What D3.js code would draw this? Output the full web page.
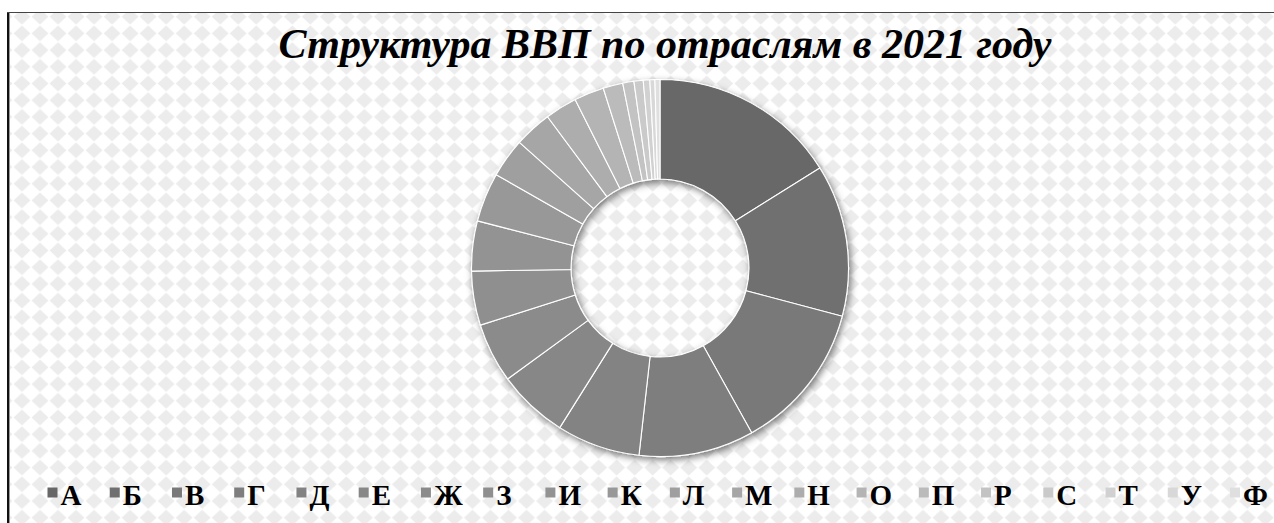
<!DOCTYPE html>
<html><head><meta charset="utf-8">
<script src="https://cdn.jsdelivr.net/npm/d3@7"></script>
<style>html,body{margin:0;padding:0;background:#fff;overflow:hidden;} svg{display:block;}</style>
</head><body>
<svg id="chart" width="1274" height="523"></svg>
<script>
// ---- data ----
const title = "Структура ВВП по отраслям в 2021 году";
const categories = ["А","Б","В","Г","Д","Е","Ж","З","И","К","Л","М","Н","О","П","Р","С","Т","У","Ф"];
const shares = [16.1,13.0,12.8,9.86,7.14,6.06,5.11,4.64,4.28,4.22,3.36,3.22,2.75,2.56,1.69,0.96,0.79,0.56,0.43,0.43];
const colors = ["#676767","#707070","#797979","#7e7e7e","#838383","#878787","#8b8b8b","#8f8f8f","#939393","#989898",
                "#9f9f9f","#a6a6a6","#adadad","#b4b4b4","#bbbbbb","#c3c3c3","#cacaca","#d1d1d1","#d8d8d8","#dfdfdf"];

// ---- layout ----
const W = 1274, H = 523;
const cx = 660, cy = 268, rOuter = 188.5, rInner = 89;
const svg = d3.select("#chart");
const defs = svg.append("defs");

// diamond background pattern
const pw = 18.02, ph = 16.7;
const pat = defs.append("pattern").attr("id","dmnd").attr("patternUnits","userSpaceOnUse")
  .attr("width",pw).attr("height",ph).attr("x",3.96 - pw/2).attr("y",-ph/2);
pat.append("rect").attr("width",pw).attr("height",ph).attr("fill","#ffffff");
pat.append("polygon")
  .attr("points",[[pw/2,ph/2-7.8],[pw/2+8.4,ph/2],[pw/2,ph/2+7.8],[pw/2-8.4,ph/2]].map(p=>p.join(",")).join(" "))
  .attr("fill","#ececec");

// drop shadow
const f = defs.append("filter").attr("id","shadow").attr("x","-20%").attr("y","-20%").attr("width","140%").attr("height","140%");
f.append("feDropShadow").attr("dx",2).attr("dy",3).attr("stdDeviation",3.5)
  .attr("flood-color","#000").attr("flood-opacity",0.5);

// chart area + frame
svg.append("rect").attr("x",9).attr("y",13).attr("width",W-9).attr("height",H-13).attr("fill","url(#dmnd)");
svg.append("rect").attr("x",7).attr("y",12).attr("width",2).attr("height",H-12).attr("fill","#111");
svg.append("rect").attr("x",9).attr("y",13).attr("width",1).attr("height",H-13).attr("fill","#9a9a9a");
svg.append("rect").attr("x",7).attr("y",12).attr("width",W-7).attr("height",1).attr("fill","#444");

// title
svg.append("text").attr("x",665).attr("y",58)
  .attr("text-anchor","middle")
  .style("font-family","'Liberation Serif','Times New Roman',serif")
  .style("font-weight","bold").style("font-style","italic").style("font-size","42px")
  .attr("fill","#000").text(title);

// donut
const pie = d3.pie().sort(null).value(d=>d).startAngle(0).endAngle(2*Math.PI);
const arc = d3.arc().innerRadius(rInner).outerRadius(rOuter);
const g = svg.append("g").attr("transform",`translate(${cx},${cy})`).attr("filter","url(#shadow)");
g.selectAll("path").data(pie(shares)).join("path")
  .attr("d",arc)
  .attr("fill",(d,i)=>colors[i])
  .attr("stroke","#ffffff").attr("stroke-width",1.1).attr("stroke-linejoin","round");

// legend
const lx = d3.scalePoint().domain(categories).range([47.5,1230]);
const leg = svg.append("g");
const items = leg.selectAll("g").data(categories).join("g")
  .attr("transform",d=>`translate(${lx(d)},0)`);
items.append("rect").attr("x",0).attr("y",487.5).attr("width",10).attr("height",10)
  .attr("fill",(d,i)=>colors[i]);
items.append("text").attr("x",13).attr("y",504.5)
  .style("font-family","'Liberation Serif','Times New Roman',serif")
  .style("font-weight","bold").style("font-size","29px")
  .attr("fill","#000").text(d=>d);
</script>
</body></html>
